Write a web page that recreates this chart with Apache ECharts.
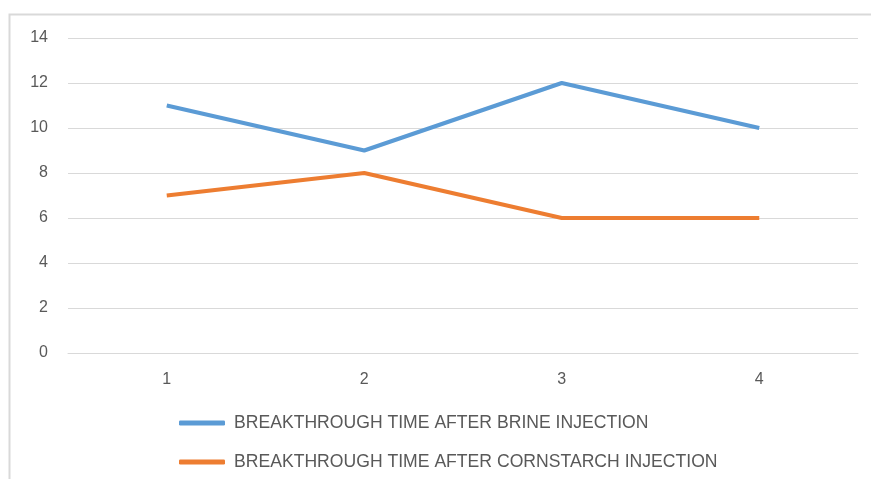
<!DOCTYPE html>
<html><head><meta charset="utf-8">
<script src="https://cdn.jsdelivr.net/npm/echarts@6/dist/echarts.min.js"></script>
<style>html,body{margin:0;padding:0;background:#fff}#c{width:871px;height:479px}</style>
</head><body><div id="c"></div>
<script>
const categories = ['1','2','3','4'];
const brineName = 'BREAKTHROUGH TIME AFTER BRINE INJECTION';
const cornName = 'BREAKTHROUGH TIME AFTER CORNSTARCH INJECTION';
const brineValues = [11, 9, 12, 10];
const cornValues = [7, 8, 6, 6];
const yMin = 0, yMax = 14, yInterval = 2;

const font = 'Liberation Sans, Arial, sans-serif';
const chart = echarts.init(document.getElementById('c'));
chart.setOption({
  animation: false,
  backgroundColor: '#fff',
  graphic: [{
    type: 'rect', left: 7, top: 12,
    shape: {width: 900, height: 500},
    style: {fill: 'none', stroke: '#d9d9d9', lineWidth: 2}
  }],
  grid: {left: 68, right: 13, top: 38, bottom: 126},
  xAxis: {
    type: 'category', data: categories, boundaryGap: true,
    axisLine: {lineStyle: {color: '#d9d9d9', width: 1}},
    axisTick: {show: false},
    axisLabel: {color: '#595959', fontSize: 16, fontFamily: font, margin: 19}
  },
  yAxis: {
    type: 'value', min: yMin, max: yMax, interval: yInterval,
    axisLine: {show: false}, axisTick: {show: false},
    splitLine: {lineStyle: {color: '#d9d9d9', width: 1}},
    axisLabel: {color: '#595959', fontSize: 16, fontFamily: font, margin: 20}
  },
  legend: {
    orient: 'vertical', left: 174, top: 409,
    itemWidth: 46, itemHeight: 5, itemGap: 21,
    icon: 'roundRect',
    textStyle: {color: '#595959', fontSize: 17.6, fontFamily: font, padding: [0,0,0,4]},
    data: [brineName, cornName]
  },
  series: [
    {name: brineName, type: 'line', data: brineValues, symbol: 'none',
     lineStyle: {color: '#5B9BD5', width: 4}, itemStyle: {color: '#5B9BD5'}},
    {name: cornName, type: 'line', data: cornValues, symbol: 'none',
     lineStyle: {color: '#ED7D31', width: 4}, itemStyle: {color: '#ED7D31'}}
  ]
});
</script></body></html>
